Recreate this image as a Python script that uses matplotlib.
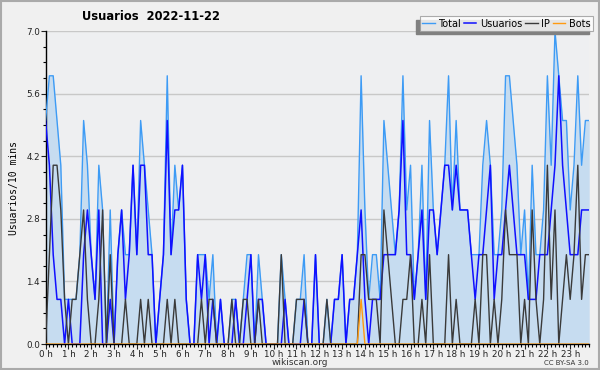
import numpy as np
import matplotlib; matplotlib.use("Agg")
import matplotlib.pyplot as plt
from matplotlib.patches import Rectangle
from matplotlib.ticker import MultipleLocator, FixedLocator

# 10-minute slots, 144 per day
usuarios = [5,4,2,1,1,0,1,0,0,0, 2,3,2,1,3,0,0,1,0,2, 3,1,2,4,2,4,4,2,2,
            0,1,2,5,2,3,3,4,1,0, 0,2,1,2,0,1,0,1,0,0, 0,1,0,0,1,2,0,1,
            1,0,0,0,0,0,1,0,0,0, 0,1,0,0,2,0,0,0,0,1, 1,2,0,1,1,2,3,
            1,0,1,1,1,2,2,2,2,3, 5,2,2,1,2,3,1,3,3,2, 3,4,4,3,4,3,3,3,2,1,
            2,2,3,4,1,2,2,3,4,3, 2,2,2,1,1,1,2,2,2,3, 4,6,4,3,2,2,2,3,3,3]
ip = [0,2,4,4,3,1,0,1,1,2, 3,1,0,0,1,3,0,2,0,0, 0,1,0,0,0,1,0,1,0,
      0,0,0,1,0,1,0,0,0,0, 0,0,1,0,1,1,0,0,0,0, 1,0,0,1,1,0,0,1,
      0,0,0,0,0,2,0,0,0,1, 1,1,0,0,0,0,0,1,0,0, 0,0,0,0,0,0,2,
      2,1,1,1,0,3,2,1,0,0, 1,1,2,0,0,1,0,2,0,0, 0,0,2,0,1,0,0,0,0,1,
      0,2,2,0,1,0,1,3,2,2, 2,0,1,0,3,1,0,1,4,1, 3,0,1,2,1,2,4,1,2,2]
bots = [0]*83 + [1] + [0]*60
total = [5,6,6,5,4,1,1,1,1,2, 5,4,2,1,4,3,0,3,0,2, 3,2,2,4,2,5,4,3,2,
         0,1,2,6,2,4,3,4,1,0, 0,2,2,2,1,2,0,1,0,0, 1,1,0,1,2,2,0,2,
         1,0,0,0,0,2,1,0,0,1, 1,2,0,0,2,0,0,1,0,1, 1,2,0,1,1,2,6,
         3,1,2,2,1,5,4,3,2,3, 6,3,4,1,2,4,1,5,3,2, 3,4,6,3,5,3,3,3,2,2,
         2,4,5,4,2,2,3,6,6,5, 4,2,3,1,4,2,2,3,6,4, 7,6,5,5,3,4,6,4,5,5]
hours = [f"{h} h" for h in range(24)]
title = "Usuarios  2022-11-22"

x = np.arange(len(total))
fig = plt.figure(figsize=(6, 3.7), dpi=100, facecolor="#f0f0f0")
ax = fig.add_axes([0.076, 0.070, 0.906, 0.846], facecolor="#eeeff1")

ax.fill_between(x, total, color="#c6dcf0", lw=0, zorder=1)
ax.plot(x, total, color="#3d9bf5", lw=1.0, label="Total", zorder=3)
ax.plot(x, usuarios, color="#1010ff", lw=1.1, label="Usuarios", zorder=4)
ax.plot(x, ip, color="#3a3a3a", lw=1.0, label="IP", zorder=5)
ax.plot(x, bots, color="#ff9a10", lw=1.0, label="Bots", zorder=6)

ax.set_xlim(0, 143); ax.set_ylim(0, 7)
ax.xaxis.set_major_locator(FixedLocator(range(0, 144, 6)))
ax.set_xticklabels(hours)
ax.xaxis.set_minor_locator(MultipleLocator(1))
ax.yaxis.set_major_locator(MultipleLocator(1.4))
ax.yaxis.set_minor_locator(MultipleLocator(0.35))
ax.yaxis.set_major_formatter(plt.FormatStrFormatter("%.1f"))
ax.tick_params(axis="both", which="major", length=3.5, width=0.8, labelsize=6.3, pad=0.5, colors="#222")
ax.tick_params(axis="both", which="minor", length=2.5, width=0.8)
ax.grid(axis="y", which="major", color="#c8c8c8", lw=1.0, zorder=0)
ax.set_axisbelow(True)
for s in ("top", "right"): ax.spines[s].set_visible(False)
for s in ("left", "bottom"): ax.spines[s].set_linewidth(1.0)
ax.set_ylabel("Usuarios/10 mins", family="DejaVu Sans Mono", fontsize=7, labelpad=5)

fig.text(0.252, 0.956, title, fontsize=8.3, fontweight="bold", ha="center", va="center")
fig.text(0.5, 0.02, "wikiscan.org", fontsize=6.5, ha="center", va="center", color="#333")
fig.text(0.982, 0.019, "CC BY-SA 3.0", fontsize=5, ha="right", va="center", color="#333")

leg = fig.legend(loc="upper right", bbox_to_anchor=(0.988, 0.956), ncol=4, fontsize=7,
                 frameon=True, fancybox=False, handlelength=1.3, handletextpad=0.35,
                 columnspacing=0.3, borderpad=0.25, borderaxespad=0)
leg.get_frame().set_edgecolor("#999"); leg.get_frame().set_linewidth(0.8)
leg.set_zorder(10)
fig.canvas.draw()
bb = leg.get_window_extent().transformed(fig.transFigure.inverted())
fig.add_artist(Rectangle((bb.x0 - 0.006, bb.y0 - 0.009), bb.width, bb.height, transform=fig.transFigure,
                         color="#808080", zorder=9))
fig.add_artist(Rectangle((0.001, 0.002), 0.997, 0.995, transform=fig.transFigure, fill=False,
                         edgecolor="#aaa", lw=1.5, zorder=20))
fig.savefig("out.png", dpi=100, facecolor=fig.get_facecolor())
